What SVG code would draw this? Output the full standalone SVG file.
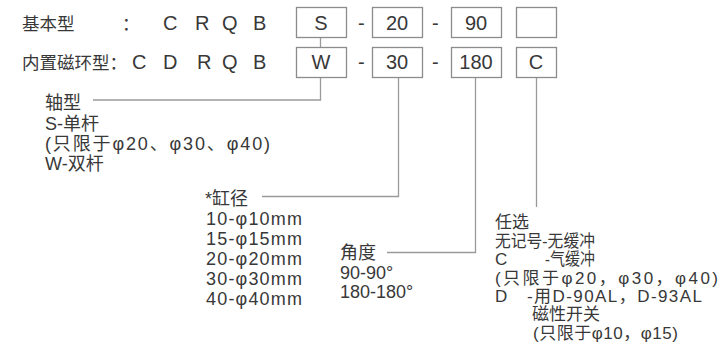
<svg xmlns="http://www.w3.org/2000/svg" width="724" height="356" viewBox="0 0 724 356">
<style>
text{font-family:"Liberation Sans","Noto Sans CJK SC",sans-serif;fill:#383838}
.big{font-size:20px}
.cj{font-size:17.5px}
.s{font-size:18px}
.r{font-size:17px}
.box rect{fill:#fff;stroke:#8c8c8c;stroke-width:1.3}
.box text{font-size:20px;text-anchor:middle}
#connectors path{fill:none;stroke:#9a9a9a;stroke-width:1.3}
</style>
<rect width="724" height="356" fill="#fff"/>
<g id="labels-top">
<text class="cj" x="22" y="30">基本型</text>
<text class="cj" x="122" y="30">：</text>
<text class="big" x="163 195 222 253" y="30">CRQB</text>
<text class="cj" x="22" y="69">内置磁环型：</text>
<text class="big" x="132 163 197 222 253" y="69">CDRQB</text>
<text class="big" x="358" y="30">-</text>
<text class="big" x="432" y="30">-</text>
<text class="big" x="358" y="69">-</text>
<text class="big" x="432" y="69">-</text>
</g>
<g id="connectors">
<path d="M320.5 37V47"/>
<path d="M320.5 77V100H93"/>
<path d="M398.5 77V196.5H262"/>
<path d="M475.5 77V252.5H387"/>
<path d="M536.5 77V207"/>
</g>
<g id="box-S" class="box"><rect x="296.5" y="7.5" width="50" height="30"/><text x="321" y="30">S</text></g>
<g id="box-20" class="box"><rect x="372.5" y="7.5" width="50" height="30"/><text x="397" y="30">20</text></g>
<g id="box-90" class="box"><rect x="451.5" y="7.5" width="50" height="30"/><text x="476" y="30">90</text></g>
<g id="box-empty" class="box"><rect x="516.5" y="7.5" width="40" height="30"/></g>
<g id="box-W" class="box"><rect x="296.5" y="47.5" width="50" height="30"/><text x="321" y="69">W</text></g>
<g id="box-30" class="box"><rect x="372.5" y="47.5" width="50" height="30"/><text x="397" y="69">30</text></g>
<g id="box-180" class="box"><rect x="451.5" y="47.5" width="50" height="30"/><text x="476" y="69">180</text></g>
<g id="box-C" class="box"><rect x="516.5" y="47.5" width="40" height="30"/><text x="536" y="69">C</text></g>
<g id="note-shaft" class="s">
<text x="45" y="109">轴型</text>
<text x="45" y="130">S-单杆</text>
<text x="45" y="150" textLength="225" lengthAdjust="spacing">(只限于φ20、φ30、φ40)</text>
<text x="45" y="170">W-双杆</text>
</g>
<g id="note-bore" class="s">
<text x="205" y="205">*缸径</text>
<text x="206" y="225" textLength="96" lengthAdjust="spacing">10-φ10mm</text>
<text x="206" y="245" textLength="96" lengthAdjust="spacing">15-φ15mm</text>
<text x="206" y="265" textLength="96" lengthAdjust="spacing">20-φ20mm</text>
<text x="206" y="285" textLength="96" lengthAdjust="spacing">30-φ30mm</text>
<text x="206" y="305" textLength="96" lengthAdjust="spacing">40-φ40mm</text>
</g>
<g id="note-angle" class="s">
<text x="340" y="259">角度</text>
<text x="340" y="279">90-90°</text>
<text x="340" y="298">180-180°</text>
</g>
<g id="note-option" class="r">
<text x="495" y="228">任选</text>
<text x="495" y="247" textLength="100" lengthAdjust="spacingAndGlyphs">无记号-无缓冲</text>
<text x="495" y="265">C</text>
<text x="545" y="265" textLength="50" lengthAdjust="spacingAndGlyphs">-气缓冲</text>
<text x="495" y="284" textLength="223" lengthAdjust="spacing">(只限于φ20，φ30，φ40)</text>
<text x="495" y="302">D</text>
<text x="527" y="302" textLength="175" lengthAdjust="spacing">-用D-90AL，D-93AL</text>
<text x="532" y="320">磁性开关</text>
<text x="533" y="339" textLength="145" lengthAdjust="spacing">(只限于φ10，φ15)</text>
</g>
</svg>
